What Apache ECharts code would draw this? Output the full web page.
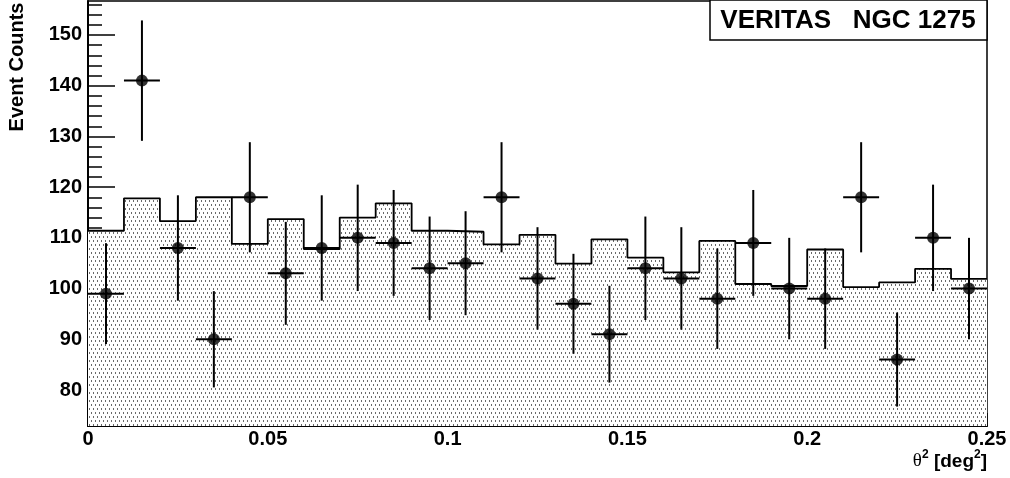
<!DOCTYPE html>
<html>
<head>
<meta charset="utf-8">
<script src="https://cdn.jsdelivr.net/npm/echarts@6/dist/echarts.min.js"></script>
<style>
html,body{margin:0;padding:0;background:#fff;}
#chart{width:1010px;height:478px;}
</style>
</head>
<body>
<div id="chart"></div>
<script>
// Bin edges (theta^2, deg^2)
var binEdges = [0,0.01,0.02,0.03,0.04,0.05,0.06,0.07,0.08,0.09,0.10,0.11,0.12,0.13,0.14,0.15,0.16,0.17,0.18,0.19,0.20,0.21,0.22,0.23,0.24,0.25];
var binCenters = [0.005,0.015,0.025,0.035,0.045,0.055,0.065,0.075,0.085,0.095,0.105,0.115,0.125,0.135,0.145,0.155,0.165,0.175,0.185,0.195,0.205,0.215,0.225,0.235,0.245];
// ON counts (points)
var onCounts = [99,141,108,90,118,103,108,110,109,104,105,118,102,97,91,104,102,98,109,100,98,118,86,110,100];
// errors on ON counts
var onErrors = [9.95,11.87,10.39,9.49,10.86,10.15,10.39,10.49,10.44,10.20,10.25,10.86,10.10,9.85,9.54,10.20,10.10,9.90,10.44,10.00,9.90,10.86,9.27,10.49,10.00];
// background (OFF, normalised) histogram
var bgCounts = [111.4,117.8,113.3,118.0,108.8,113.7,107.8,114.0,116.8,111.4,111.2,108.7,110.6,104.9,109.7,106.1,103.2,109.4,100.9,100.5,107.7,100.3,101.2,103.9,101.9];
// y-axis ticks
var yMajorTicks = [80,90,100,110,120,130,140,150];
var yMinorTicks = [74,76,78,80,82,84,86,88,90,92,94,96,98,100,102,104,106,108,110,112,114,116,118,120,122,124,126,128,130,132,134,136,138,140,142,144,146,148,150,152,154,156];
var yMin = 72.9, yMax = 156.7;

// dotted fill pattern
var pat = document.createElement('canvas');
pat.width = 4; pat.height = 8;
var pc = pat.getContext('2d');
pc.fillStyle = '#ffffff'; pc.fillRect(0,0,4,8);
pc.fillStyle = '#6a6a6a';
pc.fillRect(1,0,1,2);
pc.fillRect(3,4,1,2);

var stepData = [];
for (var i = 0; i < bgCounts.length; i++) stepData.push([binEdges[i], bgCounts[i]]);
stepData.push([binEdges[bgCounts.length], bgCounts[bgCounts.length-1]]);

var pointData = [], errData = [];
for (var j = 0; j < onCounts.length; j++) {
  pointData.push([binCenters[j], onCounts[j]]);
  errData.push([binCenters[j], onCounts[j], onErrors[j], binEdges[j], binEdges[j+1]]);
}

var FONT = 'Liberation Sans, Arial, Helvetica, sans-serif';
var chart = echarts.init(document.getElementById('chart'), null, {renderer:'canvas'});
chart.setOption({
  animation: false,
  backgroundColor: '#fff',
  grid: {left: 88, right: 23, top: 1, bottom: 52, show: true, borderColor: '#000', borderWidth: 1.5, backgroundColor: 'transparent', containLabel: false, outerBoundsMode: 'none'},
  xAxis: {
    type: 'value', min: 0, max: 0.25, interval: 0.05,
    axisLine: {show: true, onZero: false, lineStyle: {color: '#000', width: 2}},
    axisTick: {show: true, inside: true, length: 13, lineStyle: {color: '#000', width: 1.5}},
    minorTick: {show: true, splitNumber: 5, length: 6, lineStyle: {color: '#000', width: 1.5}},
    splitLine: {show: false}, minorSplitLine: {show: false},
    axisLabel: {color: '#000', fontFamily: FONT, fontWeight: 'bold', fontSize: 20, margin: 3,
      formatter: function (v) { return String(Math.round(v*100)/100); }}
  },
  yAxis: [{
    type: 'value', min: yMin, max: yMax,
    axisLine: {show: true, onZero: false, lineStyle: {color: '#000', width: 2}},
    axisTick: {show: true, inside: true, length: 27, customValues: yMajorTicks, lineStyle: {color: '#000', width: 1.5}},
    axisLabel: {color: '#000', fontFamily: FONT, fontWeight: 'bold', fontSize: 20, margin: 6, customValues: yMajorTicks},
    splitLine: {show: false}
  }, {
    type: 'value', min: yMin, max: yMax, position: 'left',
    axisLine: {show: false},
    axisTick: {show: true, inside: true, length: 14, customValues: yMinorTicks, lineStyle: {color: '#000', width: 1.5}},
    axisLabel: {show: false, customValues: yMinorTicks},
    splitLine: {show: false}
  }],
  series: [{
    type: 'line', step: 'end', data: stepData, yAxisIndex: 0,
    symbol: 'none', lineStyle: {color: '#000', width: 1.8},
    areaStyle: {color: {image: pat, repeat: 'repeat'}, opacity: 1, origin: 'start'},
    z: 1, silent: true
  }, {
    type: 'custom', data: errData, yAxisIndex: 0, z: 3, silent: true,
    renderItem: function (params, api) {
      var x = api.value(0), y = api.value(1), e = api.value(2), lo = api.value(3), hi = api.value(4);
      var t = api.coord([x, y + e]), b = api.coord([x, y - e]);
      var l = api.coord([lo, y]), r = api.coord([hi, y]);
      return {type: 'group', children: [
        {type: 'line', shape: {x1: t[0], y1: t[1], x2: b[0], y2: b[1]}, style: {stroke: '#000', lineWidth: 2}},
        {type: 'line', shape: {x1: l[0], y1: l[1], x2: r[0], y2: r[1]}, style: {stroke: '#000', lineWidth: 2}}
      ]};
    }
  }, {
    type: 'scatter', data: pointData, yAxisIndex: 0, symbol: 'circle', symbolSize: 12,
    itemStyle: {color: '#000'}, z: 4, silent: true
  }],
  graphic: [
    {type: 'rect', shape: {x: 710, y: 0, width: 277, height: 40}, style: {fill: '#fff', stroke: '#000', lineWidth: 1.5}, z: 10},
    {type: 'text', x: 848, y: 21, style: {text: 'VERITAS   NGC 1275', font: 'bold 26px ' + FONT, fill: '#000', textAlign: 'center', textVerticalAlign: 'middle'}, z: 11},
    {type: 'text', x: 17, y: 67, rotation: Math.PI/2, style: {text: 'Event Counts', font: 'bold 20px ' + FONT, fill: '#000', textAlign: 'center', textVerticalAlign: 'middle'}, z: 11},
    {type: 'text', x: 987, y: 460, style: {
      text: '{t|θ}{s|2}{m| [deg}{s|2}{m|]}',
      textAlign: 'right', textVerticalAlign: 'middle', fill: '#000',
      rich: {
        t: {fontFamily: 'Liberation Serif, serif', fontSize: 19, fontWeight: 'normal', lineHeight: 22, verticalAlign: 'bottom'},
        m: {fontFamily: FONT, fontSize: 19, fontWeight: 'bold', lineHeight: 22, verticalAlign: 'bottom'},
        s: {fontFamily: FONT, fontSize: 12, fontWeight: 'bold', lineHeight: 22, verticalAlign: 'top'}
      }}, z: 11}
  ]
});
</script>
</body>
</html>
